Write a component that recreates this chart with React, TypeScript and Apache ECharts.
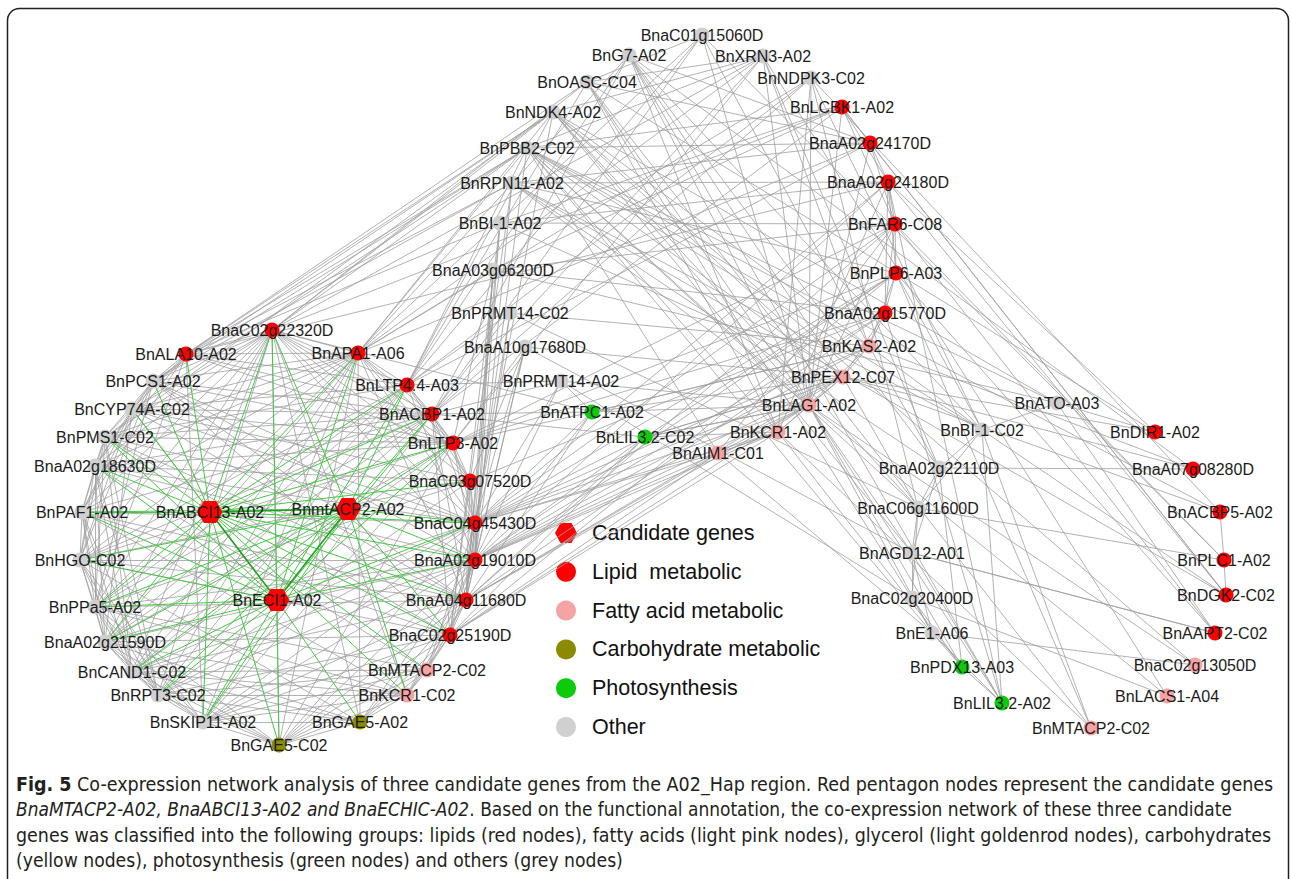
import { useEffect, useRef } from "react";
import * as echarts from "echarts";

// Functional groups of the co-expression network
const categories = [
  "Candidate genes",
  "Lipid  metabolic",
  "Fatty acid metabolic",
  "Carbohydrate metabolic",
  "Photosynthesis",
  "Other",
];
const categoryColors = ["#ff0000", "#ff0000", "#f6a3a3", "#8c8a00", "#0bcb0b", "#d0d0d0"];

// [key, gene label, category index]
const genes: [string, string, number][] = [
  ["C01", "BnaC01g15060D", 5],
  ["G7", "BnG7-A02", 5],
  ["XRN3", "BnXRN3-A02", 5],
  ["OASC", "BnOASC-C04", 5],
  ["NDPK3", "BnNDPK3-C02", 5],
  ["NDK4", "BnNDK4-A02", 5],
  ["PBB2", "BnPBB2-C02", 5],
  ["RPN11", "BnRPN11-A02", 5],
  ["BI1A", "BnBI-1-A02", 5],
  ["A03g", "BnaA03g06200D", 5],
  ["PRMTC", "BnPRMT14-C02", 5],
  ["A10g", "BnaA10g17680D", 5],
  ["PRMTA", "BnPRMT14-A02", 5],
  ["LCBK1", "BnLCBK1-A02", 1],
  ["g24170", "BnaA02g24170D", 1],
  ["g24180", "BnaA02g24180D", 1],
  ["FAR6", "BnFAR6-C08", 1],
  ["PLP6", "BnPLP6-A03", 1],
  ["g15770", "BnaA02g15770D", 1],
  ["KAS2", "BnKAS2-A02", 2],
  ["PEX12", "BnPEX12-C07", 2],
  ["LAG1", "BnLAG1-A02", 2],
  ["KCR1A", "BnKCR1-A02", 2],
  ["AIM1", "BnAIM1-C01", 2],
  ["ATPC1", "BnATPC1-A02", 4],
  ["LIL32C", "BnLIL3.2-C02", 4],
  ["PDX13", "BnPDX13-A03", 4],
  ["LIL32A", "BnLIL3.2-A02", 4],
  ["ATO", "BnATO-A03", 5],
  ["BI1C", "BnBI-1-C02", 5],
  ["g22110", "BnaA02g22110D", 5],
  ["C06g", "BnaC06g11600D", 5],
  ["AGD12", "BnAGD12-A01", 5],
  ["C20400", "BnaC02g20400D", 5],
  ["E1", "BnE1-A06", 5],
  ["DIR1", "BnDIR1-A02", 1],
  ["A07g", "BnaA07g08280D", 1],
  ["ACBP5", "BnACBP5-A02", 1],
  ["PLC1", "BnPLC1-A02", 1],
  ["DGK2", "BnDGK2-C02", 1],
  ["AAPT2", "BnAAPT2-C02", 1],
  ["C13050", "BnaC02g13050D", 2],
  ["LACS1", "BnLACS1-A04", 2],
  ["MTACPR", "BnMTACP2-C02", 2],
  ["C22320", "BnaC02g22320D", 1],
  ["ALA10", "BnALA10-A02", 1],
  ["APA1", "BnAPA1-A06", 1],
  ["LTP44", "BnLTP4.4-A03", 1],
  ["ACBP1", "BnACBP1-A02", 1],
  ["LTP3", "BnLTP3-A02", 1],
  ["C07520", "BnaC03g07520D", 1],
  ["C45430", "BnaC04g45430D", 1],
  ["A19010", "BnaA02g19010D", 1],
  ["A11680", "BnaA04g11680D", 1],
  ["C25190", "BnaC02g25190D", 1],
  ["MTACPL", "BnMTACP2-C02", 2],
  ["KCR1C", "BnKCR1-C02", 2],
  ["GAE5A", "BnGAE5-A02", 3],
  ["GAE5C", "BnGAE5-C02", 3],
  ["PCS1", "BnPCS1-A02", 5],
  ["CYP74A", "BnCYP74A-C02", 5],
  ["PMS1", "BnPMS1-C02", 5],
  ["A18630", "BnaA02g18630D", 5],
  ["PAF1", "BnPAF1-A02", 5],
  ["HGO", "BnHGO-C02", 5],
  ["PPa5", "BnPPa5-A02", 5],
  ["A21590", "BnaA02g21590D", 5],
  ["CAND1", "BnCAND1-C02", 5],
  ["RPT3", "BnRPT3-C02", 5],
  ["SKIP11", "BnSKIP11-A02", 5],
  ["ABCI13", "BnABCI13-A02", 0],
  ["MTACP2", "BnmtACP2-A02", 0],
  ["ECI1", "BnECI1-A02", 0],
];

// Network layout coordinates of each gene node
const geneLayout: Record<string, [number, number]> = {
  C01: [702, 35], G7: [629, 55], XRN3: [763, 56], OASC: [587, 82], NDPK3: [811, 78],
  NDK4: [553, 112], PBB2: [527, 148], RPN11: [512, 183], BI1A: [500, 223], A03g: [493, 270],
  PRMTC: [510, 313], A10g: [525, 347], PRMTA: [561, 381],
  LCBK1: [842, 107], g24170: [870, 143], g24180: [888, 182], FAR6: [895, 224], PLP6: [896, 273],
  g15770: [885, 313], KAS2: [869, 346], PEX12: [843, 377], LAG1: [809, 405], KCR1A: [778, 432],
  AIM1: [718, 453], ATPC1: [592, 412], LIL32C: [645, 437], PDX13: [962, 667], LIL32A: [1002, 703],
  ATO: [1057, 403], BI1C: [982, 430], g22110: [939, 468], C06g: [918, 508], AGD12: [912, 553],
  C20400: [912, 598], E1: [932, 633], DIR1: [1155, 432], A07g: [1193, 469], ACBP5: [1220, 512],
  PLC1: [1224, 560], DGK2: [1226, 595], AAPT2: [1215, 633], C13050: [1195, 665], LACS1: [1167, 696],
  MTACPR: [1091, 728],
  C22320: [272, 330], ALA10: [186, 354], APA1: [358, 353], LTP44: [407, 385], ACBP1: [432, 414],
  LTP3: [453, 443], C07520: [470, 481], C45430: [475, 523], A19010: [475, 560], A11680: [466, 600],
  C25190: [450, 635], MTACPL: [427, 670], KCR1C: [407, 695], GAE5A: [360, 722], GAE5C: [279, 745],
  PCS1: [153, 381], CYP74A: [132, 409], PMS1: [105, 437], A18630: [95, 466], PAF1: [82, 512],
  HGO: [80, 560], PPa5: [95, 607], A21590: [105, 642], CAND1: [132, 672], RPT3: [158, 695],
  SKIP11: [203, 722], ABCI13: [210, 512], MTACP2: [348, 509], ECI1: [277, 600],
};

// Co-expression links among non-candidate genes: [gene, partners]
const coexpressionLinks: [string, string[]][] = [
  ["PCS1", ["CYP74A", "PMS1", "A18630", "PAF1", "ALA10", "C22320", "APA1", "ACBP1", "LTP3", "C45430", "A19010", "HGO", "PPa5", "A11680", "C25190"]],
  ["CYP74A", ["PMS1", "A18630", "PAF1", "HGO", "ALA10", "C22320", "APA1", "LTP44", "C07520", "A11680", "A21590", "ACBP1", "LTP3", "C45430"]],
  ["PMS1", ["A18630", "PAF1", "HGO", "PPa5", "C22320", "APA1", "LTP44", "ACBP1", "C45430", "C25190", "CAND1", "LTP3", "A11680", "RPT3"]],
  ["A18630", ["PAF1", "HGO", "PPa5", "A21590", "CAND1", "C22320", "ALA10", "APA1", "LTP3", "C07520", "A19010", "MTACPL", "ACBP1", "C45430", "RPT3"]],
  ["PAF1", ["HGO", "PPa5", "A21590", "CAND1", "RPT3", "C22320", "ALA10", "APA1", "ACBP1", "C45430", "A11680", "C25190", "KCR1C"]],
  ["HGO", ["PPa5", "A21590", "CAND1", "RPT3", "SKIP11", "C22320", "APA1", "LTP44", "LTP3", "A19010", "C25190", "GAE5A", "ACBP1", "C07520", "A11680"]],
  ["PPa5", ["A21590", "CAND1", "RPT3", "SKIP11", "GAE5C", "C22320", "ALA10", "ACBP1", "C07520", "A11680", "MTACPL", "KCR1C", "LTP44", "A19010", "APA1"]],
  ["A21590", ["CAND1", "RPT3", "SKIP11", "GAE5C", "C22320", "APA1", "LTP44", "C45430", "A19010", "GAE5A", "ACBP1", "LTP3", "C25190", "KCR1C"]],
  ["CAND1", ["RPT3", "SKIP11", "GAE5C", "GAE5A", "C22320", "APA1", "ACBP1", "LTP3", "A11680", "KCR1C", "C45430", "A19010", "MTACPL", "LTP44"]],
  ["RPT3", ["SKIP11", "GAE5C", "GAE5A", "KCR1C", "MTACPL", "C22320", "LTP44", "C07520", "A19010", "APA1", "C45430", "C25190"]],
  ["SKIP11", ["GAE5C", "GAE5A", "KCR1C", "MTACPL", "C25190", "APA1", "ACBP1", "C45430", "ALA10", "LTP3", "A19010", "A11680"]],
  ["GAE5C", ["GAE5A", "KCR1C", "MTACPL", "C25190", "A11680", "C22320", "LTP3", "A19010", "C45430", "APA1"]],
  ["GAE5A", ["KCR1C", "MTACPL", "C25190", "A11680", "A19010", "APA1", "C22320"]],
  ["KCR1C", ["MTACPL", "C25190", "A11680", "A19010", "C22320"]],
  ["MTACPL", ["C25190", "A11680", "A19010", "C45430"]],
  ["C22320", ["ALA10", "APA1", "LTP44", "ACBP1", "LTP3", "C45430", "A19010", "C07520"]],
  ["ALA10", ["APA1", "LTP44", "ACBP1", "LTP3"]],
  ["APA1", ["LTP44", "ACBP1", "LTP3", "C07520", "C45430", "A11680"]],
  ["LTP44", ["ACBP1", "LTP3", "C07520", "A19010"]],
  ["ACBP1", ["LTP3", "C07520", "C45430", "A11680", "C25190"]],
  ["LTP3", ["C07520", "C45430", "A19010"]],
  ["C07520", ["C45430", "A19010", "A11680", "C25190"]],
  ["C45430", ["A19010", "A11680", "C25190"]],
  ["A19010", ["A11680", "C25190"]],
  ["A11680", ["C25190"]],
  ["ATPC1", ["C45430", "A19010", "A11680", "LTP3", "ACBP1", "LAG1", "PEX12", "KAS2", "C22320"]],
  ["LIL32C", ["A19010", "A11680", "C45430", "C25190", "LAG1", "KCR1A", "PEX12", "ACBP1"]],
  ["AIM1", ["A19010", "A11680", "C45430", "KCR1A", "LAG1", "C25190", "E1"]],
  ["PRMTA", ["ATPC1", "C45430", "A19010", "ACBP1", "LTP44", "LAG1"]],
  ["A10g", ["C45430", "A19010", "A11680", "LTP3", "C07520", "PEX12"]],
  ["PRMTC", ["A19010", "C45430", "ACBP1", "LTP44", "KAS2"]],
  ["A03g", ["A19010", "C45430", "A11680", "LTP3", "APA1", "LCBK1", "g15770"]],
  ["BI1A", ["A19010", "A11680", "C25190", "ALA10", "PEX12", "FAR6"]],
  ["RPN11", ["A19010", "C07520", "ALA10", "PCS1", "LAG1", "PLP6", "g24180"]],
  ["PBB2", ["ALA10", "PCS1", "CYP74A", "C22320", "APA1", "A11680", "LTP44", "LAG1", "KCR1A", "PEX12", "KAS2", "E1", "C06g", "AIM1"]],
  ["NDK4", ["ALA10", "PCS1", "C22320", "APA1", "LTP44", "PMS1", "C45430", "LAG1", "KAS2", "AGD12", "PEX12"]],
  ["OASC", ["ALA10", "C22320", "LTP44", "LAG1", "KCR1A", "g24170", "C20400", "MTACPR"]],
  ["G7", ["APA1", "LTP44", "ACBP1", "LAG1", "KCR1A", "LIL32A", "g24170", "BI1C", "PEX12"]],
  ["C01", ["LTP44", "ACBP1", "APA1", "KAS2", "LAG1", "OASC"]],
  ["XRN3", ["C22320", "APA1", "ACBP1", "LTP3", "NDK4", "PBB2", "OASC", "LAG1", "KAS2", "g22110"]],
  ["NDPK3", ["APA1", "LTP44", "ACBP1", "KCR1A", "BI1C", "LAG1", "C06g"]],
  ["LCBK1", ["g24170", "g24180", "FAR6", "C22320", "ACBP1", "LAG1", "BI1A", "PBB2"]],
  ["g24170", ["g24180", "FAR6", "APA1", "LTP44", "PBB2", "RPN11", "LAG1"]],
  ["g24180", ["FAR6", "PLP6", "g15770", "C45430", "A19010", "ALA10", "BI1A", "DGK2", "KCR1A"]],
  ["FAR6", ["PLP6", "g15770", "C45430", "A11680", "LTP3", "LAG1", "AIM1", "AAPT2", "PLC1", "A03g"]],
  ["PLP6", ["g15770", "KAS2", "C45430", "A19010", "LIL32C", "C25190", "LTP3", "BI1C", "MTACPR"]],
  ["g15770", ["KAS2", "PEX12", "A19010", "A11680", "LTP3", "C07520", "LIL32A"]],
  ["KAS2", ["PEX12", "LAG1", "A19010", "C45430", "ATPC1", "BI1C", "g22110", "A07g"]],
  ["PEX12", ["LAG1", "KCR1A", "A19010", "A11680", "C45430", "LIL32C", "ACBP5", "DIR1", "C06g"]],
  ["LAG1", ["KCR1A", "A19010", "C45430", "A11680", "C25190", "LIL32C", "LIL32A", "PDX13", "AGD12", "E1"]],
  ["KCR1A", ["A19010", "C45430", "AIM1", "C25190", "PDX13", "MTACPR"]],
  ["ATO", ["DIR1", "AAPT2", "BI1C", "PBB2", "A03g", "NDK4"]],
  ["BI1C", ["C06g", "g22110", "LIL32A", "MTACPR", "DGK2", "PBB2", "RPN11"]],
  ["g22110", ["C06g", "AGD12", "PDX13", "A07g", "RPN11", "G7"]],
  ["C06g", ["AGD12", "C20400", "PLC1", "NDK4", "PRMTC"]],
  ["AGD12", ["C20400", "E1", "AAPT2", "A10g", "LIL32A"]],
  ["C20400", ["E1", "PDX13", "LACS1", "PRMTA"]],
  ["E1", ["C13050", "PDX13", "LIL32A"]],
  ["PDX13", ["LIL32A"]],
  ["LIL32A", ["g24180"]],
  ["DIR1", ["OASC", "g24180"]],
  ["A07g", ["G7", "PEX12"]],
  ["ACBP5", ["NDPK3", "PLC1", "PBB2"]],
  ["PLC1", ["DGK2", "C01"]],
  ["DGK2", ["g24170", "RPN11", "LCBK1"]],
  ["AAPT2", ["AGD12", "PLP6"]],
  ["C13050", ["NDK4", "LAG1"]],
  ["LACS1", ["LAG1", "XRN3"]],
];

// Co-expression links of the three candidate genes
const candidateLinks: [string, string[]][] = [
  ["ABCI13", ["ALA10", "PCS1", "C22320", "APA1", "LTP44", "ACBP1", "LTP3", "C07520", "C45430", "A19010", "A11680", "C25190", "MTACPL", "KCR1C", "GAE5C", "SKIP11", "PMS1", "A18630", "PAF1", "PPa5", "A21590", "CYP74A"]],
  ["ECI1", ["C22320", "APA1", "LTP44", "ACBP1", "LTP3", "GAE5A", "GAE5C", "SKIP11", "RPT3", "CAND1", "A21590", "PPa5", "HGO", "PAF1", "A18630", "PMS1", "CYP74A", "C45430", "A19010"]],
  ["MTACP2", ["C22320", "PAF1", "HGO", "PPa5", "A21590", "CAND1", "RPT3", "SKIP11", "ACBP1", "LTP3", "LTP44", "C45430", "A19010", "C25190", "KCR1C"]],
];
const candidatePairs: [string, string][] = [
  ["ABCI13", "MTACP2"],
  ["ABCI13", "ECI1"],
  ["MTACP2", "ECI1"],
];

// Figure caption, one entry per printed line
const captionLines: { text: string; style: "b" | "i" | "n" }[][] = [
  [
    { text: "Fig. 5", style: "b" },
    { text: " Co-expression network analysis of three candidate genes from the A02_Hap region. Red pentagon nodes represent the candidate genes", style: "n" },
  ],
  [
    { text: "BnaMTACP2-A02, BnaABCI13-A02 and BnaECHIC-A02", style: "i" },
    { text: ". Based on the functional annotation, the co-expression network of these three candidate", style: "n" },
  ],
  [
    { text: "genes was classified into the following groups: lipids (red nodes), fatty acids (light pink nodes), glycerol (light goldenrod nodes), carbohydrates", style: "n" },
  ],
  [{ text: "(yellow nodes), photosynthesis (green nodes) and others (grey nodes)", style: "n" }],
];
const captionLineEnds = [1273, 1232, 1271, 623];

const W = 1292;
const H = 879;
const LABEL_FONT = "'Liberation Sans', Arial, sans-serif";
const CAPTION_FONT = "'DejaVu Sans Condensed', 'Liberation Sans', sans-serif";
const CAPTION_SIZE = 20;
const hexagonPath = "path://M25,0L75,0L100,43.3L75,86.6L25,86.6L0,43.3Z";

function measureSegments(segs: { text: string; style: string }[]): number {
  const ctx = document.createElement("canvas").getContext("2d");
  if (!ctx) return 1;
  let w = 0;
  for (const s of segs) {
    const weight = s.style === "b" ? "bold" : "normal";
    const slant = s.style === "i" ? "italic" : "normal";
    ctx.font = `${slant} ${weight} ${CAPTION_SIZE}px ${CAPTION_FONT}`;
    w += ctx.measureText(s.text).width;
  }
  return w;
}

export default function App() {
  const ref = useRef<HTMLDivElement>(null);

  useEffect(() => {
    if (!ref.current) return;
    const chart = echarts.init(ref.current, null, { renderer: "svg" });

    const nodes = genes.map(([key, label, cat]) => ({
      name: key,
      gene: label,
      value: geneLayout[key],
      category: cat,
      symbol: cat === 0 ? hexagonPath : "circle",
      symbolSize: cat === 0 ? [25, 22] : 15,
    }));

    const links: any[] = [];
    coexpressionLinks.forEach(([s, targets]) =>
      targets.forEach((t) => links.push({ source: s, target: t }))
    );
    candidateLinks.forEach(([s, targets]) =>
      targets.forEach((t) =>
        links.push({ source: s, target: t, lineStyle: { color: "#46c846", width: 1, opacity: 1 } })
      )
    );
    candidatePairs.forEach(([s, t]) =>
      links.push({ source: s, target: t, lineStyle: { color: "#1fa31f", width: 1.6, opacity: 1 } })
    );

    const richBase = { fontFamily: CAPTION_FONT, fontSize: CAPTION_SIZE, color: "#231f20" };
    const captionGraphics = captionLines.map((segs, i) => {
      const natural = measureSegments(segs);
      const target = captionLineEnds[i] - 16;
      return {
        type: "text",
        x: 16,
        y: 784 + i * 25.5,
        scaleX: target / natural,
        silent: true,
        style: {
          x: 0,
          y: 0,
          text: segs.map((s) => `{${s.style}|${s.text}}`).join(""),
          fill: "#231f20",
          fontFamily: CAPTION_FONT,
          fontSize: CAPTION_SIZE,
          verticalAlign: "middle",
          align: "left",
          rich: {
            n: { ...richBase },
            b: { ...richBase, fontWeight: "bold" },
            i: { ...richBase, fontStyle: "italic" },
          },
        },
      };
    });

    const legendGraphics: any[] = [];
    categories.forEach((name, i) => {
      const cy = 533 + i * 38.8;
      if (i === 0) {
        legendGraphics.push({
          type: "polygon",
          silent: true,
          shape: {
            points: [
              [555, cy], [560.5, cy - 10], [571.5, cy - 10], [577, cy], [571.5, cy + 10], [560.5, cy + 10],
            ],
          },
          style: { fill: categoryColors[i] },
        });
      } else {
        legendGraphics.push({
          type: "circle",
          silent: true,
          shape: { cx: 566, cy, r: 10 },
          style: { fill: categoryColors[i] },
        });
      }
      legendGraphics.push({
        type: "text",
        silent: true,
        x: 592,
        y: cy,
        style: {
          text: name,
          fill: "#111",
          fontFamily: LABEL_FONT,
          fontSize: 21.5,
          verticalAlign: "middle",
          align: "left",
        },
      });
    });

    chart.setOption({
      animation: false,
      backgroundColor: "#ffffff",
      grid: { left: 0, right: 0, top: 0, bottom: 0 },
      xAxis: { type: "value", min: 0, max: W, show: false },
      yAxis: { type: "value", min: 0, max: H, inverse: true, show: false },
      series: [
        {
          type: "graph",
          coordinateSystem: "cartesian2d",
          layout: "none",
          silent: true,
          categories: categories.map((c, i) => ({ name: c, itemStyle: { color: categoryColors[i] } })),
          data: nodes,
          links,
          lineStyle: { color: "#9e9e9e", width: 0.8, opacity: 1, curveness: 0 },
          label: {
            show: true,
            position: "inside",
            color: "#1b1b1b",
            fontSize: 16,
            fontFamily: LABEL_FONT,
            formatter: (p: any) => p.data.gene,
          },
          emphasis: { disabled: true },
        },
      ],
      graphic: [
        {
          type: "rect",
          silent: true,
          shape: { x: 7.5, y: 8.5, width: 1281, height: 1000, r: 12 },
          style: { fill: "none", stroke: "#1f1f1f", lineWidth: 1.5 },
        },
        ...legendGraphics,
        ...captionGraphics,
      ],
    });

    return () => chart.dispose();
  }, []);

  return (
    <div
      ref={ref}
      style={{ position: "absolute", left: 0, top: 0, width: W, height: H, background: "#fff" }}
    />
  );
}
